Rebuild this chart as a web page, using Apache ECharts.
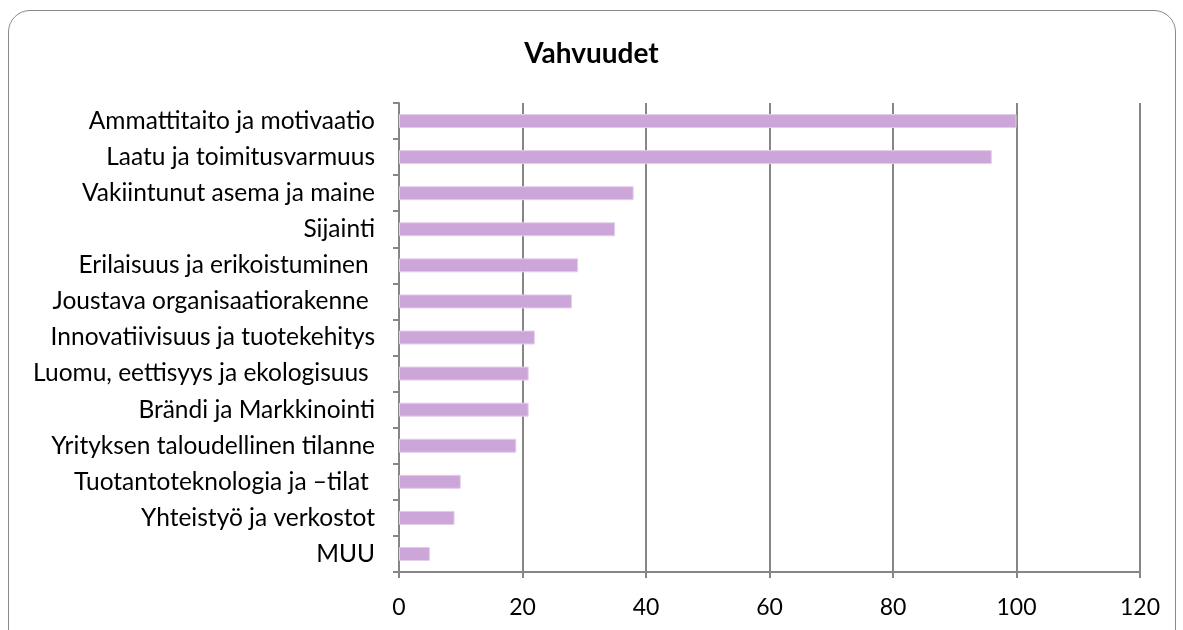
<!DOCTYPE html>
<html>
<head>
<meta charset="utf-8">
<script src="https://cdn.jsdelivr.net/npm/echarts@6/dist/echarts.min.js"></script>
<style>
	html, body {
		margin: 0;
		padding: 0;
		background: #fff;
		overflow: hidden;
	}
	#frame {
		position: absolute;
		left: 8px;
		top: 10px;
		width: 1166px;
		height: 700px;
		border: 1px solid #8a8a8a;
		border-radius: 22px;
	}
	#chart {
		position: absolute;
		left: 0;
		top: 0;
		width: 1183px;
		height: 630px;
	}
</style>
</head>
<body>
<div id="frame"></div>
<div id="chart"></div>
<script>
// kategoriat (ylhäältä alas)
const categories = [
	'Ammattitaito ja motivaatio',
	'Laatu ja toimitusvarmuus',
	'Vakiintunut asema ja maine',
	'Sijainti',
	'Erilaisuus ja erikoistuminen ',
	'Joustava organisaatiorakenne ',
	'Innovatiivisuus ja tuotekehitys',
	'Luomu, eettisyys ja ekologisuus ',
	'Brändi ja Markkinointi',
	'Yrityksen taloudellinen tilanne',
	'Tuotantoteknologia ja \u2013tilat ',
	'Yhteistyö ja verkostot',
	'MUU'
];
// arvot
const values = [100, 96, 38, 35, 29, 28, 22, 21, 21, 19, 10, 9, 5];
// x-akselin asteikko
const axisMin = 0;
const axisMax = 120;
const axisStep = 20;

let myChart = echarts.init(document.getElementById('chart'));
const font = 'Lato, "Open Sans", sans-serif';
myChart.setOption({
	animation: false,
	title: {
		text: 'Vahvuudet',
		left: 'center',
		top: 35,
		textStyle: {
			fontFamily: font,
			fontSize: 28,
			fontWeight: 'bold',
			color: '#000'
		}
	},
	grid: {
		left: 399,
		right: 43,
		top: 103,
		bottom: 58,
		containLabel: false
	},
	xAxis: {
		type: 'value',
		min: axisMin,
		max: axisMax,
		interval: axisStep,
		axisLine: { show: true, lineStyle: { color: '#868686', width: 2 } },
		axisTick: { show: true, length: 6, lineStyle: { color: '#868686', width: 2 } },
		axisLabel: {
			fontFamily: font,
			fontSize: 23,
			color: '#000',
			margin: 24
		},
		splitLine: { show: true, lineStyle: { color: '#868686', width: 2 } }
	},
	yAxis: {
		type: 'category',
		inverse: true,
		data: categories,
		axisLine: { show: true, lineStyle: { color: '#868686', width: 2 } },
		axisTick: { show: true, length: 6, alignWithLabel: false, lineStyle: { color: '#868686', width: 2 } },
		axisLabel: {
			fontFamily: font,
			fontSize: 24.5,
			color: '#000',
			margin: 24
		}
	},
	series: [
		{
			type: 'bar',
			data: values,
			barWidth: 14,
			itemStyle: {
				color: '#cca6d9',
				borderColor: '#e4cfea',
				borderWidth: 1
			}
		}
	]
});
</script>
</body>
</html>
